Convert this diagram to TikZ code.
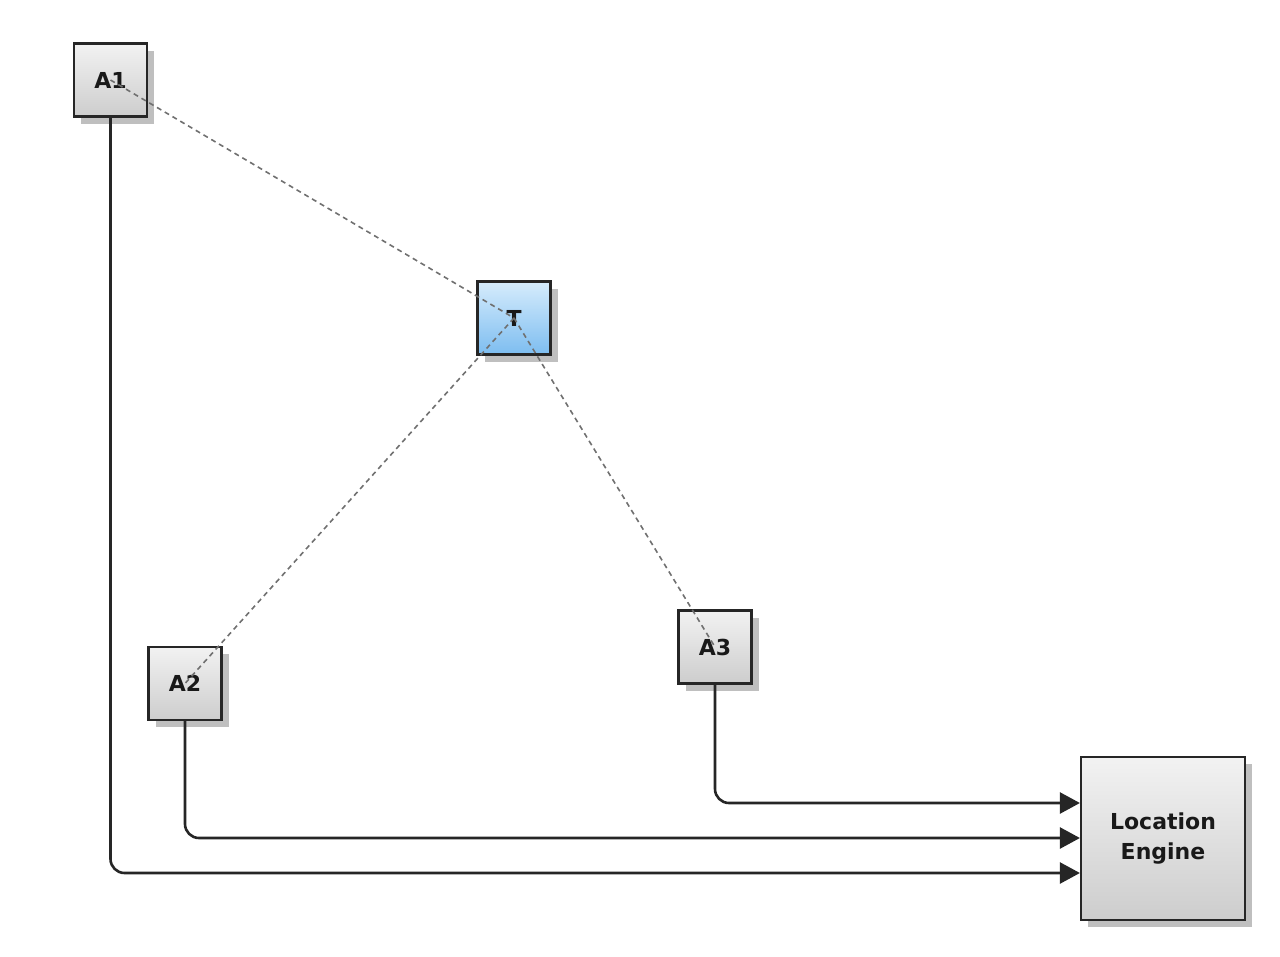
\documentclass[tikz,border=0pt]{standalone}
\usepackage{fontspec}
\setmainfont{DejaVu Sans}
\usetikzlibrary{arrows.meta,shadows}
\definecolor{boxtop}{HTML}{F2F2F2}
\definecolor{boxbot}{HTML}{CDCDCD}
\definecolor{bluetop}{HTML}{D6ECFC}
\definecolor{bluebot}{HTML}{7DBDF0}
\definecolor{dashgray}{HTML}{707070}
\tikzset{
  anchorbox/.style={draw=black!85, line width=2.2pt, minimum width=73pt, minimum height=73pt,
    top color=boxtop, bottom color=boxbot, inner sep=0pt,
    font=\fontsize{22}{30}\selectfont\bfseries, text=black!90,
    drop shadow={shadow xshift=7pt, shadow yshift=-7pt, fill=black!25, opacity=1}},
  tagbox/.style={anchorbox, top color=bluetop, bottom color=bluebot},
  enginebox/.style={anchorbox, minimum width=164pt, minimum height=163pt, align=center},
  signal/.style={dashgray, dashed, dash pattern=on 5pt off 4pt, line width=1.6pt},
  wire/.style={black!85, line width=2.6pt, rounded corners=14pt, -{Triangle[length=20pt,width=21pt]}}
}
\begin{document}
\begin{tikzpicture}[x=1pt,y=-1pt]
\useasboundingbox (0,0) rectangle (1280,956);
\node[anchorbox] (A1) at (110.5,80) {A1};
\node[tagbox] (T) at (514,318) {T};
\node[anchorbox] (A2) at (185,683.5) {A2};
\node[anchorbox] (A3) at (715,647) {A3};
\node[enginebox] (LE) at (1163,838.5) {Location\\Engine};
\coordinate (c1) at (110.5,873);
\coordinate (c2) at (185,838);
\coordinate (c3) at (715,803);
\draw[wire] (A1.south) -- (c1) -- (LE.west |- c1);
\draw[wire] (A2.south) -- (c2) -- (LE.west |- c2);
\draw[wire] (A3.south) -- (c3) -- (LE.west |- c3);
\draw[signal] (A1.center) -- (T.center);
\draw[signal] (T.center) -- (A2.center);
\draw[signal] (T.center) -- (A3.center);
\end{tikzpicture}
\end{document}
